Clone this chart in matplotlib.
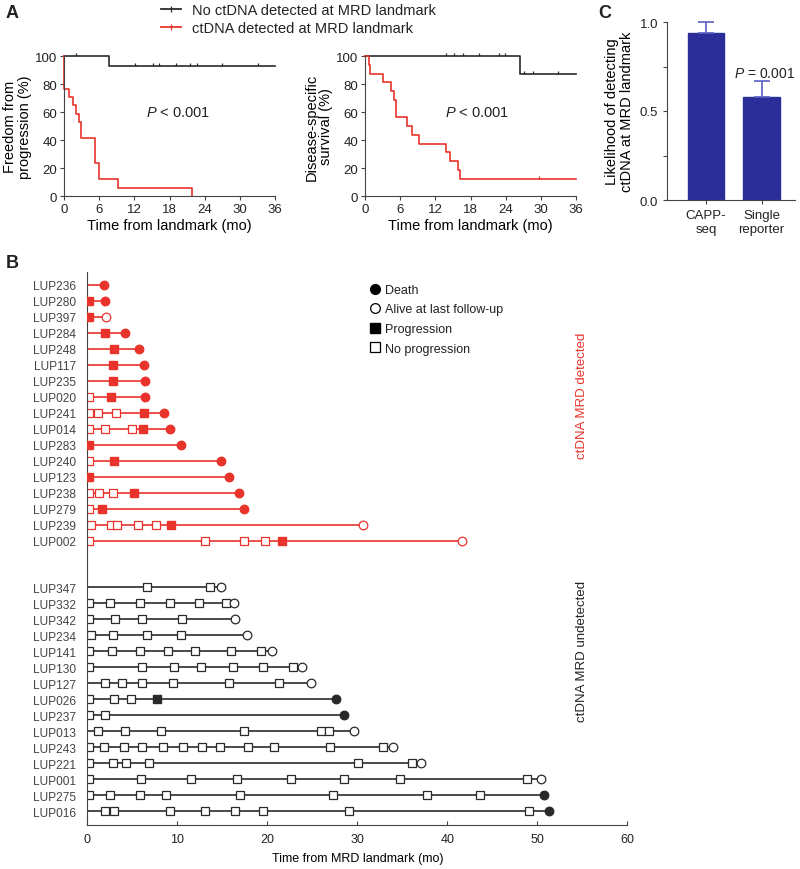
import numpy as np
import matplotlib
matplotlib.use('Agg')
import matplotlib.pyplot as plt
from matplotlib.lines import Line2D
from matplotlib.path import Path

plt.rcParams['font.family'] = ['Liberation Sans', 'DejaVu Sans']
plt.rcParams['mathtext.fontset'] = 'custom'
plt.rcParams['mathtext.rm'] = 'Liberation Sans'
plt.rcParams['mathtext.it'] = 'Liberation Sans:italic'
plt.rcParams['text.color'] = '#222222'
plt.rcParams['axes.edgecolor'] = '#444444'
plt.rcParams['xtick.color'] = '#444444'
plt.rcParams['ytick.color'] = '#444444'
plt.rcParams['xtick.labelcolor'] = '#222222'
plt.rcParams['ytick.labelcolor'] = '#222222'

RED = '#e8342b'
DARK = '#2a2a2a'
BAR = '#2b2e98'
ERR = '#5b60c4'

# ---- 面板 A: Kaplan-Meier 数据 ----
pfs_red_t = [0, 0, 0.85, 1.5, 2.05, 2.56, 2.9, 5.3, 6.0, 9.2, 21.8]
pfs_red_s = [100, 76.5, 70.6, 64.7, 58.8, 52.9, 41.2, 23.5, 11.8, 5.9, 0]
pfs_blk_t = [0, 7.7, 36]
pfs_blk_s = [100, 92.9, 92.9]
pfs_blk_cens = [2.0, 12.1, 15.2, 16.2, 19.1, 21.5, 22.7, 27.0, 33.1]

dss_red_t = [0, 0.7, 0.9, 3.1, 4.4, 4.95, 5.3, 7.2, 8.0, 9.2, 13.8, 14.5, 15.8, 16.2, 36]
dss_red_s = [100, 93.75, 87.5, 81.25, 75, 68.75, 56.25, 50, 43.75, 37.5, 31.25,
             25, 18.75, 12.5, 12.5]
dss_red_cens = [29.7]
dss_blk_t = [0, 26.4, 36]
dss_blk_s = [100, 87.5, 87.5]
dss_blk_cens = [13.8, 15.1, 16.7, 19.5, 22.8, 23.9, 27.2, 28.7, 33.0]

# ---- 面板 C: 柱状图数据 ----
methods = ['CAPP-\nseq', 'Single\nreporter']
detect_rate = [0.94, 0.58]
detect_err = [0.06, 0.09]

# ---- 面板 B: 泳道图数据 (ctDNA 阳性) ----
red_ids = ['LUP236', 'LUP280', 'LUP397', 'LUP284', 'LUP248', 'LUP117', 'LUP235',
           'LUP020', 'LUP241', 'LUP014', 'LUP283', 'LUP240', 'LUP123', 'LUP238',
           'LUP279', 'LUP239', 'LUP002']
red_end = [1.9, 2.0, 2.1, 4.2, 5.7, 6.3, 6.4, 6.4, 8.5, 9.2, 10.4, 14.9, 15.7,
           16.8, 17.4, 30.6, 41.6]
red_dead = [1, 1, 0, 1, 1, 1, 1, 1, 1, 1, 1, 1, 1, 1, 1, 0, 0]
red_prog = [None, 0.2, 0.2, 1.95, 3.0, 2.9, 2.9, 2.6, 6.3, 6.2, 0.2, 3.0, 0.2,
            5.2, 1.6, 9.25, 21.6]
red_noprog = [[], [], [], [], [], [], [], [0.2], [0.2, 1.2, 3.2], [0.2, 2.0, 5.0],
              [], [0.2], [], [0.2, 1.35, 2.9], [0.2],
              [0.45, 2.6, 3.25, 5.65, 7.6], [0.2, 13.1, 17.4, 19.7]]

# ---- 面板 B: 泳道图数据 (ctDNA 阴性) ----
blk_ids = ['LUP347', 'LUP332', 'LUP342', 'LUP234', 'LUP141', 'LUP130', 'LUP127',
           'LUP026', 'LUP237', 'LUP013', 'LUP243', 'LUP221', 'LUP001', 'LUP275',
           'LUP016']
blk_end = [14.9, 16.3, 16.4, 17.7, 20.5, 23.9, 24.9, 27.6, 28.5, 29.6, 34.0, 37.1,
           50.4, 50.7, 51.3]
blk_dead = [0, 0, 0, 0, 0, 0, 0, 1, 1, 0, 0, 0, 0, 1, 1]
blk_prog = [None, None, None, None, None, None, None, 7.7, None, None, None, None,
            None, None, None]
blk_noprog = [[6.6, 13.6],
              [0.2, 2.5, 5.8, 9.2, 12.4, 15.4],
              [0.2, 3.1, 6.1, 10.5],
              [0.4, 2.9, 6.6, 10.4],
              [0.2, 2.7, 5.8, 9.0, 12.0, 16.0, 19.3],
              [0.2, 6.1, 9.6, 12.6, 16.2, 19.5, 22.8],
              [2.0, 3.9, 6.1, 9.5, 15.7, 21.3],
              [0.2, 3.0, 4.9],
              [0.2, 2.0],
              [1.2, 4.2, 8.2, 17.4, 26.0, 26.9],
              [0.2, 1.8, 4.1, 6.1, 8.4, 10.6, 12.7, 14.7, 17.8, 20.7, 27.0, 32.9],
              [0.2, 2.9, 4.3, 6.8, 30.1, 36.1],
              [0.2, 6.0, 11.5, 16.6, 22.6, 28.5, 34.7, 48.8],
              [0.2, 2.5, 5.8, 8.7, 17.0, 27.3, 37.7, 43.6],
              [2.0, 3.0, 9.2, 13.1, 16.4, 19.5, 29.1, 49.1]]

TICK_UP = Path([(0, 0), (0, 1)], [Path.MOVETO, Path.LINETO])


def step_at(t, s, x):
    i = np.searchsorted(t, x, side='right') - 1
    return np.array(s)[i]


def km_axes(ax, ylabel):
    ax.set_xlim(0, 36)
    ax.set_ylim(0, 100)
    ax.set_xticks(range(0, 37, 6))
    ax.set_yticks(range(0, 101, 20))
    ax.spines[['top', 'right']].set_visible(False)
    ax.tick_params(labelsize=9.5, length=3, width=0.8, pad=2)
    ax.set_xlabel('Time from landmark (mo)', fontsize=10.5, labelpad=2)
    ax.set_ylabel(ylabel, fontsize=10.5, labelpad=2, linespacing=1.05)


fig = plt.figure(figsize=(8, 8.7), dpi=100)

# ================= 面板 A =================
axA1 = fig.add_axes([64 / 800, 1 - 197 / 870, 211 / 800, 140 / 870])
axA1.step(pfs_blk_t, pfs_blk_s, where='post', color=DARK, lw=1.2, clip_on=False)
axA1.step(pfs_red_t, pfs_red_s, where='post', color=RED, lw=1.2, clip_on=False)
axA1.plot(pfs_blk_cens, step_at(pfs_blk_t, pfs_blk_s, pfs_blk_cens), ls='none',
          marker=TICK_UP, ms=4, mec=DARK, mew=0.9, clip_on=False)
axA1.text(0.54, 0.6, '$P$ < 0.001', transform=axA1.transAxes, fontsize=10.5,
          ha='center', va='center')
km_axes(axA1, 'Freedom from\nprogression (%)')

axA2 = fig.add_axes([365 / 800, 1 - 197 / 870, 211 / 800, 140 / 870])
axA2.step(dss_blk_t, dss_blk_s, where='post', color=DARK, lw=1.2, clip_on=False)
axA2.step(dss_red_t, dss_red_s, where='post', color=RED, lw=1.2, clip_on=False)
axA2.plot(dss_blk_cens, step_at(dss_blk_t, dss_blk_s, dss_blk_cens), ls='none',
          marker=TICK_UP, ms=4, mec=DARK, mew=0.9, clip_on=False)
axA2.plot(dss_red_cens, step_at(dss_red_t, dss_red_s, dss_red_cens), ls='none',
          marker=TICK_UP, ms=4, mec=RED, mew=0.9, clip_on=False)
axA2.text(0.53, 0.6, '$P$ < 0.001', transform=axA2.transAxes, fontsize=10.5,
          ha='center', va='center')
km_axes(axA2, 'Disease-specific\nsurvival (%)')

legA = [Line2D([], [], color=DARK, lw=1.3, marker='|', ms=5, mew=0.9),
        Line2D([], [], color=RED, lw=1.3, marker='|', ms=5, mew=0.9)]
fig.legend(legA, ['No ctDNA detected at MRD landmark',
                  'ctDNA detected at MRD landmark'],
           loc='upper left', bbox_to_anchor=(161 / 800, 1 - 4 / 870),
           frameon=False, fontsize=10.5, handlelength=1.4, handletextpad=0.7,
           labelspacing=0.3, borderpad=0, borderaxespad=0)

# ================= 面板 C =================
axC = fig.add_axes([667 / 800, 1 - 201 / 870, 128 / 800, 178 / 870])
xc = np.arange(len(methods))
axC.bar(xc, detect_rate, width=0.66, color=BAR, edgecolor=BAR)
axC.errorbar(xc, detect_rate, yerr=[np.zeros(2), detect_err], fmt='none',
             ecolor=ERR, elinewidth=1.2, capsize=6, capthick=1.2, clip_on=False)
axC.set_xlim(-0.7, 1.6)
axC.set_ylim(0, 1.0)
axC.set_yticks([0.0, 0.5, 1.0])
axC.set_yticks([0.25, 0.75], minor=True)
axC.set_xticks(xc)
axC.set_xticklabels(methods, fontsize=10)
axC.spines[['top', 'right']].set_visible(False)
axC.tick_params(labelsize=9.5, length=3, width=0.8)
axC.tick_params(which='minor', length=3, width=0.8)
axC.set_ylabel('Likelihood of detecting\nctDNA at MRD landmark', fontsize=10.5,
               labelpad=4, linespacing=1.05)
axC.text(0.5, 0.69, '$P$ = 0.001', fontsize=10, ha='left', va='baseline')

# ================= 面板 B =================
axB = fig.add_axes([87.3 / 800, 1 - 826 / 870, 540 / 800, 553 / 870])


def draw_rows(ys, ends, dead, prog, noprog, col):
    for y, e, d, p, npg in zip(ys, ends, dead, prog, noprog):
        axB.plot([0, e], [y, y], color=col, lw=1.2, zorder=1)
        if npg:
            axB.plot(npg, [y] * len(npg), ls='none', marker='s', ms=5.2,
                     mfc='white', mec=col, mew=0.9, zorder=2)
        if p is not None:
            axB.plot([p], [y], ls='none', marker='s', ms=5.6, mfc=col, mec=col,
                     zorder=3)
        axB.plot([e], [y], ls='none', marker='o', ms=6.2,
                 mfc=col if d else 'white', mec=col, mew=0.9, zorder=3)


red_y = np.arange(len(red_ids))
blk_y = 18.9 + np.arange(len(blk_ids))
draw_rows(red_y, red_end, red_dead, red_prog, red_noprog, RED)
draw_rows(blk_y, blk_end, blk_dead, blk_prog, blk_noprog, DARK)

axB.set_xlim(0, 60)
axB.set_ylim(33.75, -0.8)
axB.set_xticks(range(0, 61, 10))
axB.set_yticks(np.concatenate([red_y, blk_y]))
axB.set_yticklabels(red_ids + blk_ids, fontsize=8.6, color='#444444')
axB.tick_params(axis='y', length=0, pad=8)
axB.tick_params(axis='x', direction='in', length=3, width=0.8, labelsize=9,
                pad=6)
axB.spines[['top', 'right']].set_visible(False)
axB.set_xlabel('Time from MRD landmark (mo)', fontsize=9, labelpad=5)

legB = [Line2D([], [], ls='none', marker='o', ms=7, mfc='black', mec='black'),
        Line2D([], [], ls='none', marker='o', ms=7, mfc='white', mec='black',
               mew=0.9),
        Line2D([], [], ls='none', marker='s', ms=6.5, mfc='black', mec='black'),
        Line2D([], [], ls='none', marker='s', ms=6.5, mfc='white', mec='black',
               mew=0.9)]
axB.legend(legB, ['Death', 'Alive at last follow-up', 'Progression',
                  'No progression'],
           loc='upper left', bbox_to_anchor=(370 / 800, 1 - 285 / 870),
           bbox_transform=fig.transFigure, frameon=False, fontsize=9,
           handlelength=0.8, handletextpad=0.4, labelspacing=0.6,
           borderpad=0, borderaxespad=0)

fig.text(582 / 800, 1 - 396 / 870, 'ctDNA MRD detected', rotation=90,
         color=RED, fontsize=9.5, ha='center', va='center')
fig.text(582 / 800, 1 - 651 / 870, 'ctDNA MRD undetected', rotation=90,
         color='#222222', fontsize=9.5, ha='center', va='center')

# 面板标签
fig.text(6 / 800, 1 - 14 / 870, 'A', fontsize=13, fontweight='bold',
         va='center')
fig.text(6 / 800, 1 - 264 / 870, 'B', fontsize=13, fontweight='bold',
         va='center')
fig.text(598 / 800, 1 - 14 / 870, 'C', fontsize=13, fontweight='bold',
         va='center')

fig.savefig('out.png', dpi=100)
